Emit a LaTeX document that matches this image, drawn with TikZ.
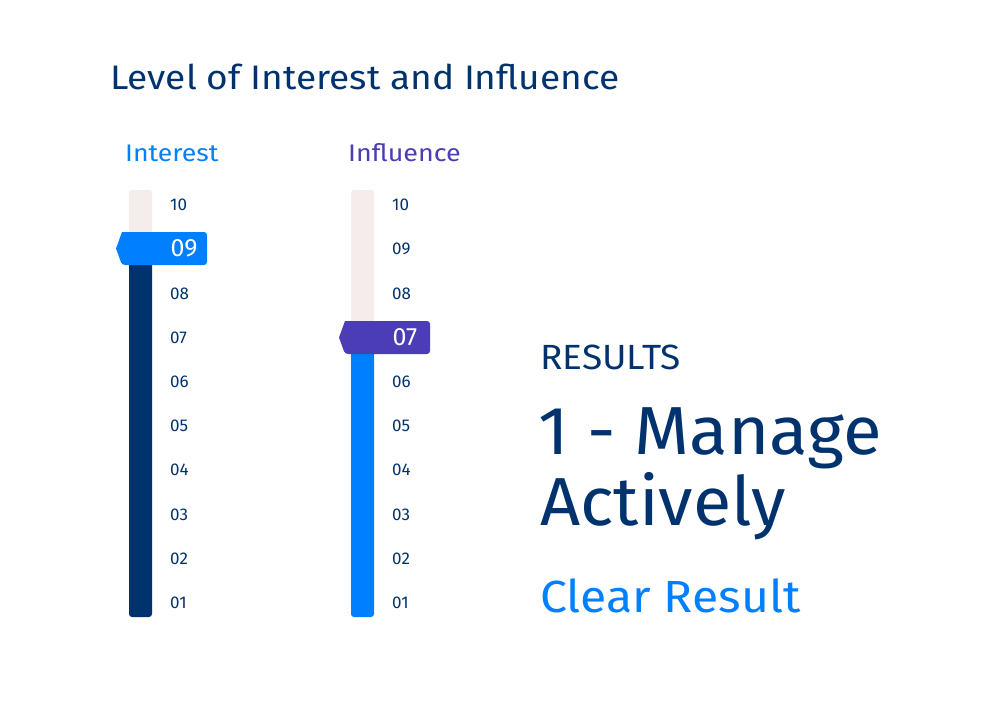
\documentclass[tikz,border=0pt]{standalone}
\usepackage{fontspec}
\usepackage{graphicx}
\setmainfont{Fira Sans}
\definecolor{navy}{HTML}{00336E}
\definecolor{bblue}{HTML}{0080FF}
\definecolor{purp}{HTML}{4A3DB5}
\definecolor{trk}{HTML}{F5ECEC}
\begin{document}
\begin{tikzpicture}[x=1pt,y=-1pt,
  tick/.style={anchor=west,text=navy,font=\fontsize{17}{17}\selectfont,inner sep=0},
  hnum/.style={text=white,font=\fontsize{25}{25}\selectfont,inner sep=0}]
\useasboundingbox[fill=white] (0,0) rectangle (1002,728);
\node[anchor=west,text=navy,font=\fontsize{34}{34}\selectfont,inner sep=0] (title) at (110,77) {\scalebox{1.09}[1]{Level of Interest and Influence}};
\node[anchor=west,text=bblue,font=\fontsize{24}{24}\selectfont,inner sep=0] (h1) at (125,153) {\scalebox{1.11}[1]{Interest}};
\node[anchor=west,text=purp,font=\fontsize{24}{24}\selectfont,inner sep=0] (h2) at (348,153) {\scalebox{1.12}[1]{Influence}};
% track 1
\fill[trk,rounded corners=3] (129,190) rectangle (152,250);
\fill[navy,rounded corners=3] (129,250) rectangle (152,617);
\fill[bblue,rounded corners=3] (122,232) -- (207,232) -- (207,265) -- (122,265) [sharp corners] -- (116,248.5) -- cycle;
\node[hnum] (v1) at (184,248.5) {09};
% track 2
\fill[trk,rounded corners=3] (351,190) rectangle (374,340);
\fill[bblue,rounded corners=3] (351,340) rectangle (374,617);
\fill[purp,rounded corners=3] (345,321) -- (430,321) -- (430,354) -- (345,354) [sharp corners] -- (339,337.5) -- cycle;
\node[hnum] (v2) at (405,337.5) {07};
\foreach \v/\l [count=\i from 0] in {10/10,9/09,8/08,7/07,6/06,5/05,4/04,3/03,2/02,1/01}{
  \pgfmathsetmacro\yy{205+44.2*\i}
  \ifnum\v=9\else\node[tick] (a\v) at (170,\yy) {\l};\fi
  \ifnum\v=7\else\node[tick] (b\v) at (392,\yy) {\l};\fi
}
\node[anchor=west,text=navy,font=\fontsize{35}{35}\selectfont,inner sep=0] (res) at (540,357) {\scalebox{1.06}[1]{RESULTS}};
\node[anchor=west,text=navy,font=\fontsize{68}{68}\selectfont,inner sep=0] (r1) at (538,438) {\scalebox{1.04}[1]{1 - Manage}};
\node[anchor=west,text=navy,font=\fontsize{68}{68}\selectfont,inner sep=0] (r2) at (540,506) {\scalebox{1.03}[1]{Actively}};
\node[anchor=west,text=bblue,font=\fontsize{45}{45}\selectfont,inner sep=0] (cl) at (540,596) {\scalebox{1.07}[1]{Clear Result}};
\end{tikzpicture}
\end{document}
